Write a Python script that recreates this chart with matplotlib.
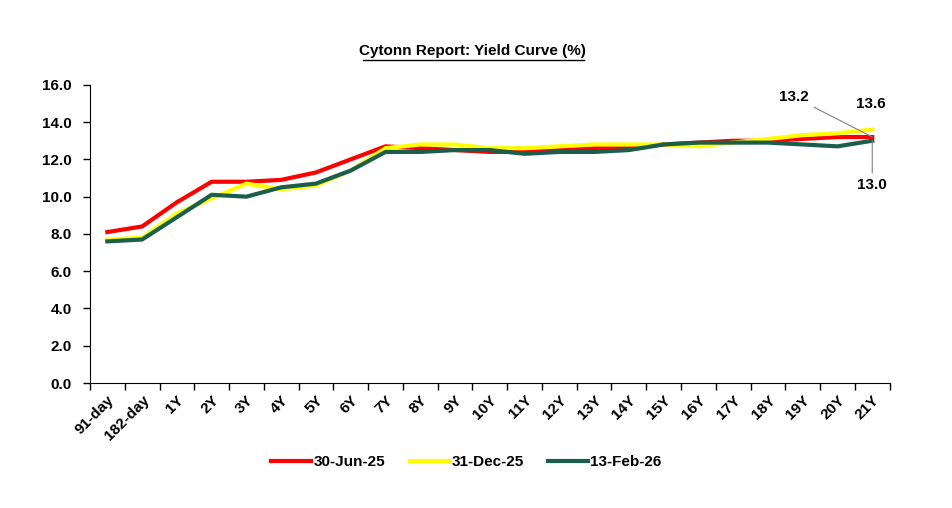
import matplotlib
matplotlib.use('Agg')
import matplotlib.pyplot as plt
import numpy as np

plt.rcParams['font.family'] = ['Liberation Sans', 'DejaVu Sans']
plt.rcParams['font.weight'] = 'bold'

# tenors
tenors = ['91-day', '182-day', '1Y', '2Y', '3Y', '4Y', '5Y', '6Y', '7Y', '8Y', '9Y', '10Y',
          '11Y', '12Y', '13Y', '14Y', '15Y', '16Y', '17Y', '18Y', '19Y', '20Y', '21Y']

# yields (%)
jun25 = [8.1, 8.4, 9.7, 10.8, 10.8, 10.9, 11.3, 12.0, 12.7, 12.6, 12.5, 12.4,
         12.4, 12.5, 12.6, 12.6, 12.8, 12.9, 13.0, 13.0, 13.1, 13.2, 13.2]
dec25 = [7.7, 7.8, 9.1, 9.9, 10.7, 10.4, 10.6, 11.4, 12.6, 12.8, 12.8, 12.6,
         12.6, 12.7, 12.8, 12.8, 12.8, 12.7, 12.9, 13.1, 13.3, 13.4, 13.6]
feb26 = [7.6, 7.7, 8.9, 10.1, 10.0, 10.5, 10.7, 11.4, 12.4, 12.4, 12.5, 12.5,
         12.3, 12.4, 12.4, 12.5, 12.8, 12.9, 12.9, 12.9, 12.8, 12.7, 13.0]

fig = plt.figure(figsize=(9.52, 5.08), dpi=100)
ax = fig.add_axes([0.0945, 0.246, 0.84, 0.587])

x = np.arange(len(tenors))
ax.plot(x, jun25, color='#FF0000', lw=3, label='30-Jun-25')
ax.plot(x, dec25, color='#FFFF00', lw=3, label='31-Dec-25')
ax.plot(x, feb26, color='#1B5E4B', lw=3, label='13-Feb-26')

ax.set_xlim(-0.5, len(tenors) - 0.5)
ax.set_ylim(0, 16)
ax.set_yticks(np.arange(0, 16.1, 2))
ax.set_yticklabels(['%.1f' % v for v in np.arange(0, 16.1, 2)], fontsize=11, fontweight='bold')
ax.set_xticks(x)
ax.set_xticklabels(tenors, rotation=45, ha='right', rotation_mode='anchor', fontsize=11, fontweight='bold')
ax.tick_params(axis='x', length=0, pad=7)
ax.set_xticks(np.arange(-0.5, len(tenors), 1), minor=True)
ax.tick_params(axis='x', which='minor', length=5, width=1)
ax.tick_params(axis='y', length=5, width=1, pad=8)
ax.spines['top'].set_visible(False)
ax.spines['right'].set_visible(False)

# end labels
ax.annotate('13.2', xy=(x[-1], jun25[-1]), xytext=(19.75, 15.35), fontsize=11, fontweight='bold',
            ha='center', va='center',
            arrowprops=dict(arrowstyle='-', color='grey', lw=0.8, shrinkA=2, shrinkB=0))
ax.text(21.95, 14.95, '13.6', fontsize=11, fontweight='bold', ha='center', va='center')
ax.annotate('13.0', xy=(x[-1], feb26[-1]), xytext=(22.0, 10.6), fontsize=11, fontweight='bold',
            ha='center', va='center',
            arrowprops=dict(arrowstyle='-', color='grey', lw=0.8, shrinkA=2, shrinkB=0))

fig.text(0.496, 0.9, 'Cytonn Report: Yield Curve (%)', ha='center', va='center',
         fontsize=11, fontweight='bold')
fig.add_artist(plt.Line2D([0.381, 0.613], [0.882, 0.882], color='black', lw=1))

fig.legend(loc='center', bbox_to_anchor=(0.49, 0.09), ncol=3, frameon=False,
           prop={'size': 11, 'weight': 'bold'}, handlelength=2.6, columnspacing=1.6, handletextpad=0.15)

plt.savefig('out.png', dpi=100)
